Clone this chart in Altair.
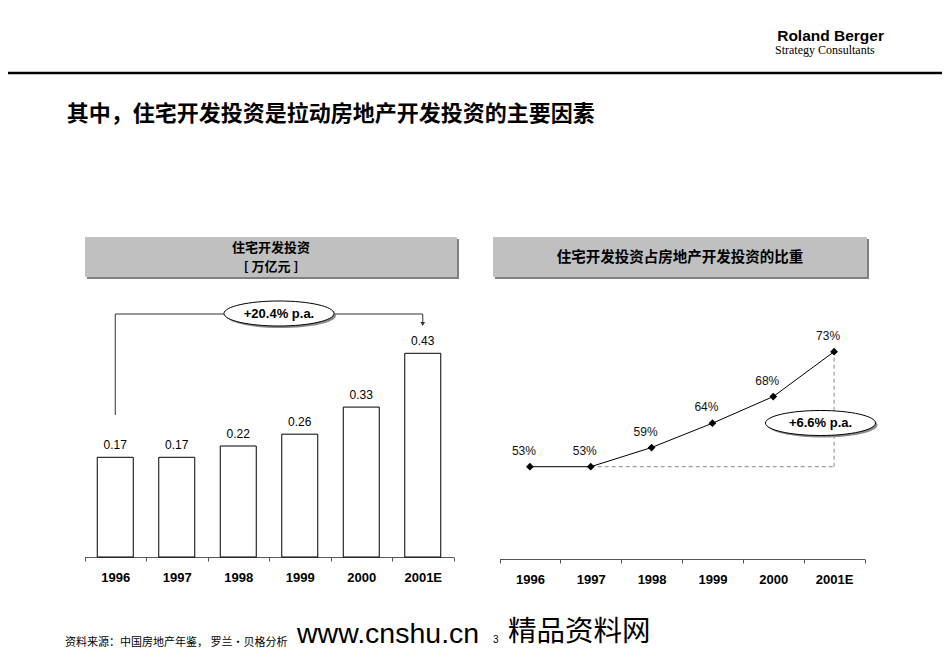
import altair as alt
import pandas as pd

# ---------------- data ----------------
years = ["1996", "1997", "1998", "1999", "2000", "2001E"]
invest = [0.17, 0.17, 0.22, 0.26, 0.33, 0.43]          # 万亿元
invest_labels = ["0.17", "0.17", "0.22", "0.26", "0.33", "0.43"]
share = [53, 53, 59, 64, 68, 73]                        # %
share_labels = ["53%", "53%", "59%", "64%", "68%", "73%"]
cagr_left = "+20.4% p.a."
cagr_right = "+6.6% p.a."

title_text = "其中，住宅开发投资是拉动房地产开发投资的主要因素"
left_header = ["住宅开发投资", "[ 万亿元 ]"]
right_header = "住宅开发投资占房地产开发投资的比重"
logo_top = "Roland Berger"
logo_bottom = "Strategy Consultants"
source_text = "资料来源：中国房地产年鉴， 罗兰•贝格分析"
footer_url = "www.cnshu.cn"
page_no = "3"
footer_cn = "精品资料网"

W, H = 934, 642
CJK = "Noto Sans CJK SC"
SANS = "Liberation Sans, Arial, sans-serif"

df_left = pd.DataFrame({"year": years, "value": invest, "label": invest_labels})
df_right = pd.DataFrame({"year": years, "share": share, "label": share_labels})
one = pd.DataFrame({"a": [0]})

k, b = 0.5523, 0.2273
ELLIPSE = (f"M -1 0 C -1 {-k*b:.4f} {-k} {-b} 0 {-b} C {k} {-b} 1 {-k*b:.4f} 1 0 "
           f"C 1 {k*b:.4f} {k} {b} 0 {b} C {-k} {b} -1 {k*b:.4f} -1 0 Z")


def axis_cfg(offset):
    return alt.Axis(title=None, orient="bottom", offset=offset, labelAngle=0,
                    labelFont=SANS, labelFontWeight="bold", labelFontSize=13,
                    labelColor="black", tickBand="extent", tickSize=4,
                    tickColor="#555", domainColor="#555", labelPadding=10,
                    grid=False)


# ---------------- decorations ----------------
def rect(x1, x2, y1, y2, color):
    return alt.Chart(one).mark_rect(fill=color).encode(
        x=alt.value(x1), x2=alt.value(x2), y=alt.value(y1), y2=alt.value(y2))


def text(t, x, y, size, font=CJK, weight="normal", align="center",
         baseline="middle", color="black"):
    return alt.Chart(one).mark_text(text=t, font=font, fontSize=size,
                                    fontWeight=weight, align=align,
                                    baseline=baseline, color=color).encode(
        x=alt.value(x), y=alt.value(y))


def ellipse(cx, cy, label, w=110):
    shadow = alt.Chart(one).mark_point(shape=ELLIPSE, size=w * w, filled=True,
                                       fill="#8a8a8a", strokeWidth=0,
                                       opacity=1).encode(
        x=alt.value(cx + 2), y=alt.value(cy + 2))
    body = alt.Chart(one).mark_point(shape=ELLIPSE, size=w * w, filled=True,
                                     fill="white", stroke="black",
                                     strokeWidth=1, opacity=1).encode(
        x=alt.value(cx), y=alt.value(cy))
    txt = text(label, cx, cy, 13, font=SANS, weight="bold")
    return [shadow, body, txt]


deco = [
    alt.Chart(one).mark_rule(color="black", strokeWidth=2.5).encode(
        x=alt.value(0), x2=alt.value(W), y=alt.value(65)),
    text(logo_top, 876, 32.5, 15.5, font=SANS,
         weight="bold", align="right", baseline="alphabetic"),
    text(logo_bottom, 767, 46, 12, font="Liberation Serif, Times New Roman, serif",
         align="left", baseline="alphabetic"),
    text(title_text, 58.7, 106, 22, weight="bold", align="left"),
    # left header box
    rect(79, 451, 231, 271, "#808080"),
    rect(77, 449, 229, 269, "#c0c0c0"),
    text(left_header[0], 263, 239.7, 13, weight="bold"),
    text(left_header[1], 263, 258.6, 13, weight="bold"),
    # right header box
    rect(487, 861, 231, 271, "#808080"),
    rect(485, 859, 229, 269, "#c0c0c0"),
    text(right_header, 672, 249.5, 14.5, weight="bold"),
    # footer
    text(source_text, 57, 635, 11, align="left"),
    text(footer_url, 289, 635, 28.5, font=SANS, align="left", baseline="alphabetic"),
    text(page_no, 485, 635, 10, font=SANS, align="left", baseline="alphabetic"),
    text(footer_cn, 500, 633, 28.5, align="left", baseline="alphabetic"),
]

# ---------------- left: bar chart ----------------
xl = alt.X("year:N", sort=years,
           scale=alt.Scale(type="band", domain=years, range=[76.5, 445.5],
                           paddingInner=0, paddingOuter=0),
           axis=axis_cfg(549 - H))
yl = alt.Y("value:Q", axis=None, stack=None,
           scale=alt.Scale(type="pow", exponent=2.3, domain=[0.17, 0.43],
                           range=[449.3, 345.3], zero=False, nice=False))

bars = alt.Chart(df_left).mark_bar(size=36, fill="white", stroke="black",
                                   strokeWidth=1).encode(
    x=xl, y=yl, y2=alt.value(549))
bar_labels = alt.Chart(df_left).mark_text(dy=-12, font=SANS, fontSize=12,
                                          baseline="middle", color="black").encode(
    x=xl, y=yl, text="label:N")

df_first = pd.DataFrame({"year": [years[0]]})
df_last = pd.DataFrame({"year": [years[-1]]})
df_span = pd.DataFrame({"year": [years[0], years[-1]]})
br_left = alt.Chart(df_first).mark_rule(color="#333", strokeWidth=1).encode(
    x=xl, y=alt.value(407), y2=alt.value(306))
br_top = alt.Chart(df_span).mark_line(color="#333", strokeWidth=1).encode(
    x=xl, y=alt.value(306))
br_right = alt.Chart(df_last).mark_rule(color="#333", strokeWidth=1).encode(
    x=xl, y=alt.value(306), y2=alt.value(314))
br_arrow = alt.Chart(df_last).mark_point(shape="triangle-down", filled=True,
                                         size=22, color="#333", opacity=1).encode(
    x=xl, y=alt.value(316))

left = alt.layer(bars, bar_labels, br_left, br_top, br_right, br_arrow,
                 *ellipse(271, 305.5, cagr_left))

# ---------------- right: line chart ----------------
xr = alt.X("year:N", sort=years,
           scale=alt.Scale(type="band", domain=years, range=[491.5, 856.5],
                           paddingInner=0, paddingOuter=0),
           axis=axis_cfg(551 - H))
yr = alt.Y("share:Q", axis=None,
           scale=alt.Scale(type="pow", exponent=5.5, domain=[53, 73],
                           range=[458.7, 343.7], zero=False, nice=False))

df_dash_h = pd.DataFrame({"year": [years[1], years[-1]],
                          "share": [share[0], share[0]]})
df_dash_v = pd.DataFrame({"year": [years[-1]], "share": [share[0]],
                          "share2": [share[-1]]})

dash_h = alt.Chart(df_dash_h).mark_line(color="#888", strokeWidth=1,
                                        strokeDash=[4, 3]).encode(x=xr, y=yr)
dash_v = alt.Chart(df_dash_v).mark_rule(color="#888", strokeWidth=1,
                                        strokeDash=[4, 3]).encode(
    x=xr, y=yr, y2="share2:Q")
line = alt.Chart(df_right).mark_line(color="black", strokeWidth=1).encode(x=xr, y=yr)
pts = alt.Chart(df_right).mark_point(shape="diamond", filled=True, size=60,
                                     color="black", opacity=1).encode(x=xr, y=yr)
pt_labels = alt.Chart(df_right).mark_text(dx=-6, dy=-16, font=SANS, fontSize=12,
                                          baseline="middle", color="#111").encode(
    x=xr, y=yr, text="label:N")

right = alt.layer(dash_h, dash_v, line, pts, pt_labels,
                  *ellipse(812.5, 415, cagr_right))

chart = alt.layer(*deco, left, right).resolve_scale(
    x="independent", y="independent"
).properties(
    width=W, height=H, padding=0,
    autosize=alt.AutoSizeParams(type="none"),
    background="white",
).configure_view(strokeWidth=0)

chart.save("out.html", embed_options={"renderer": "svg", "actions": False})
